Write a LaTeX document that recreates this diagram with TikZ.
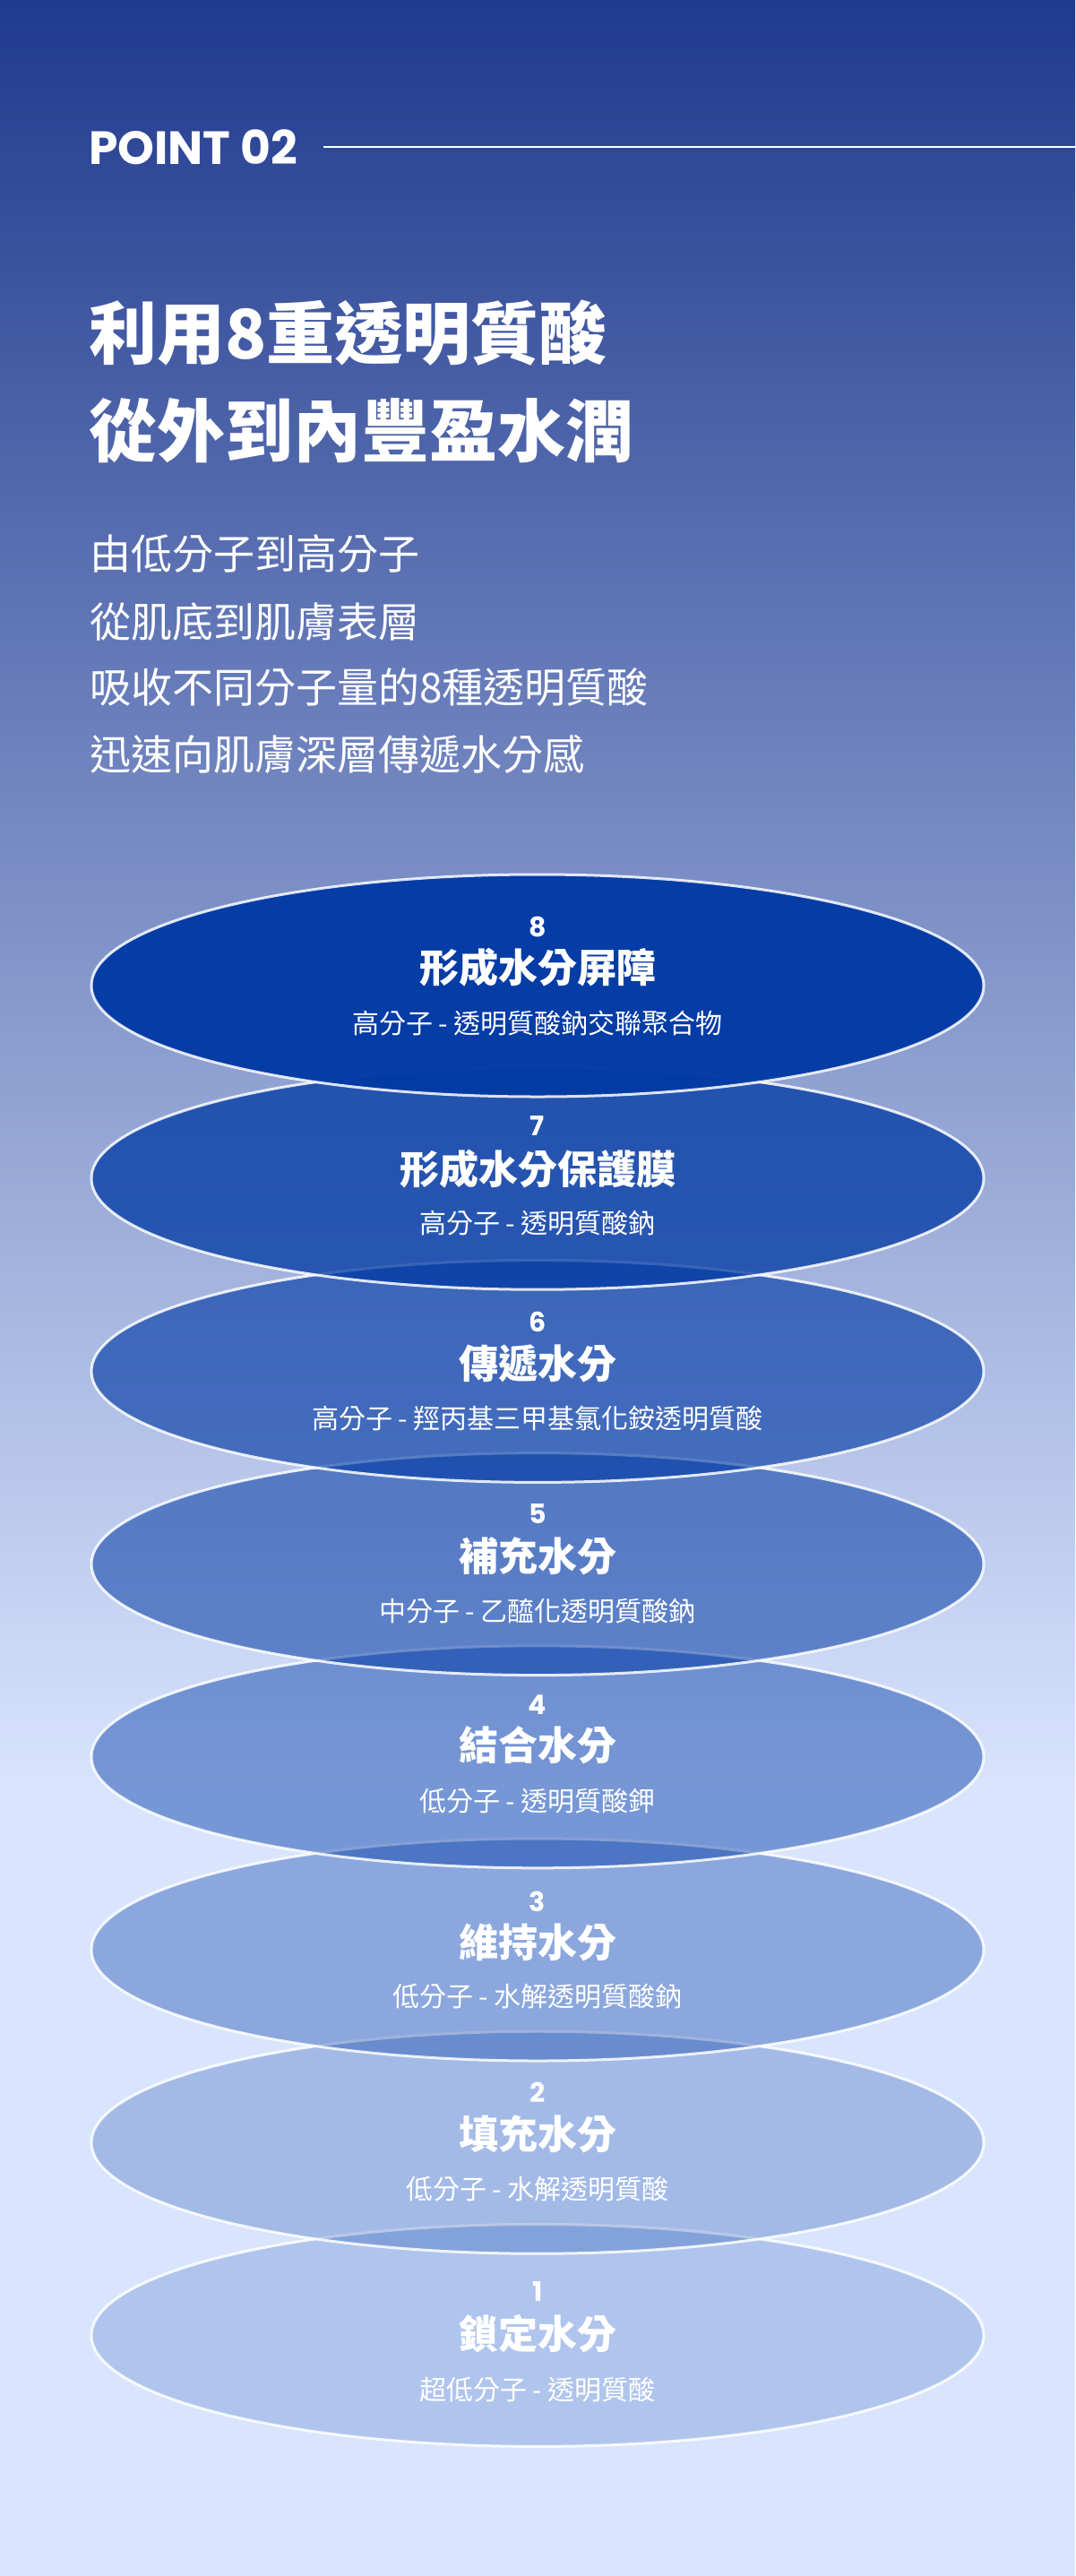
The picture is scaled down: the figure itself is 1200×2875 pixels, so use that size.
\documentclass[tikz,border=0pt]{standalone}
\usepackage{fontspec}
\usepackage{tikz}
\usetikzlibrary{shapes.geometric}
\usetikzlibrary{positioning}
\newfontfamily\cjk{Noto Sans CJK TC}
\newfontfamily\poppins{Poppins}
\definecolor{bgtop}{rgb}{0.125, 0.227, 0.557}
\definecolor{bgbottom}{rgb}{0.851, 0.898, 0.996}
\definecolor{layerblue}{rgb}{0.012, 0.231, 0.647}

\tikzset{
  layer/.style={ellipse, minimum width=996pt, minimum height=248pt, inner sep=0, fill=layerblue, draw=white, draw opacity=0.85, line width=3pt},
  layernum/.style={text=white, inner sep=0, font=\poppins\bfseries\fontsize{30}{33}\selectfont},
  layertitle/.style={text=white, inner sep=0, font=\cjk\bfseries\fontsize{44}{48}\selectfont},
  layersub/.style={text=white, inner sep=0, font=\cjk\fontsize{30}{34}\selectfont},
  heading/.style={text=white, inner sep=0, anchor=west, font=\cjk\bfseries\fontsize{76}{80}\selectfont},
  intro/.style={text=white, inner sep=0, anchor=west, font=\cjk\fontsize{46}{50}\selectfont},
}

\begin{document}
\begin{tikzpicture}[x=1pt, y=-1pt]
  \useasboundingbox (0, 0) rectangle (1200, 2875);
  \fill [top color=bgtop, bottom color=bgbottom] (0, 0) rectangle (1200, 2001);
  \fill [bgbottom] (0, 2000) rectangle (1200, 2875);

  \node [anchor=base west, inner sep=0, text=white, font=\poppins\bfseries\fontsize{52}{56}\selectfont] (point) at (99, 183) {POINT 02};
  \coordinate (rule end) at (1200, 164);
  \draw [white, line width=2pt] ([xshift=28pt]point.east |- rule end) -- (rule end);

  \node [heading] (head1) at (99, 372) {利用8重透明質酸};
  \node [heading] (head2) at (99, 481) {從外到內豐盈水潤};

  \node [intro] (intro1) at (100, 618) {由低分子到高分子};
  \node [intro] (intro2) at (100, 694) {從肌底到肌膚表層};
  \node [intro] (intro3) at (100, 767) {吸收不同分子量的8種透明質酸};
  \node [intro] (intro4) at (100, 842) {迅速向肌膚深層傳遞水分感};

  \node [layer, fill opacity=0.19] (e1) at (600, 2606.4) {};
  \node [layer, fill opacity=0.25] (e2) at (600, 2391.2) {};
  \node [layer, fill opacity=0.36] (e3) at (600, 2176) {};
  \node [layer, fill opacity=0.46] (e4) at (600, 1960.8) {};
  \node [layer, fill opacity=0.55] (e5) at (600, 1745.6) {};
  \node [layer, fill opacity=0.64] (e6) at (600, 1530.4) {};
  \node [layer, fill opacity=0.77] (e7) at (600, 1315.2) {};
  \node [layer, fill opacity=0.98] (e8) at (600, 1100) {};

  \node [layernum] (n8) at (600, 1035) {8};
  \node [layertitle] (t8) at (600, 1080) {形成水分屏障};
  \node [layersub] (s8) at (600, 1142) {高分子 - 透明質酸鈉交聯聚合物};

  \node [layernum] (n7) at (600, 1257) {7};
  \node [layertitle] (t7) at (600, 1305) {形成水分保護膜};
  \node [layersub] (s7) at (600, 1365) {高分子 - 透明質酸鈉};

  \node [layernum] (n6) at (600, 1475) {6};
  \node [layertitle] (t6) at (600, 1522) {傳遞水分};
  \node [layersub] (s6) at (600, 1583) {高分子 - 羥丙基三甲基氯化銨透明質酸};

  \node [layernum] (n5) at (600, 1690) {5};
  \node [layertitle] (t5) at (600, 1737) {補充水分};
  \node [layersub] (s5) at (600, 1798) {中分子 - 乙醯化透明質酸鈉};

  \node [layernum] (n4) at (600, 1903) {4};
  \node [layertitle] (t4) at (600, 1948) {結合水分};
  \node [layersub] (s4) at (600, 2010) {低分子 - 透明質酸鉀};

  \node [layernum] (n3) at (600, 2122) {3};
  \node [layertitle] (t3) at (600, 2168) {維持水分};
  \node [layersub] (s3) at (600, 2228) {低分子 - 水解透明質酸鈉};

  \node [layernum] (n2) at (600, 2335) {2};
  \node [layertitle] (t2) at (600, 2382) {填充水分};
  \node [layersub] (s2) at (600, 2443) {低分子 - 水解透明質酸};

  \node [layernum] (n1) at (600, 2558) {1};
  \node [layertitle] (t1) at (600, 2605) {鎖定水分};
  \node [layersub] (s1) at (600, 2667) {超低分子 - 透明質酸};
\end{tikzpicture}
\end{document}
